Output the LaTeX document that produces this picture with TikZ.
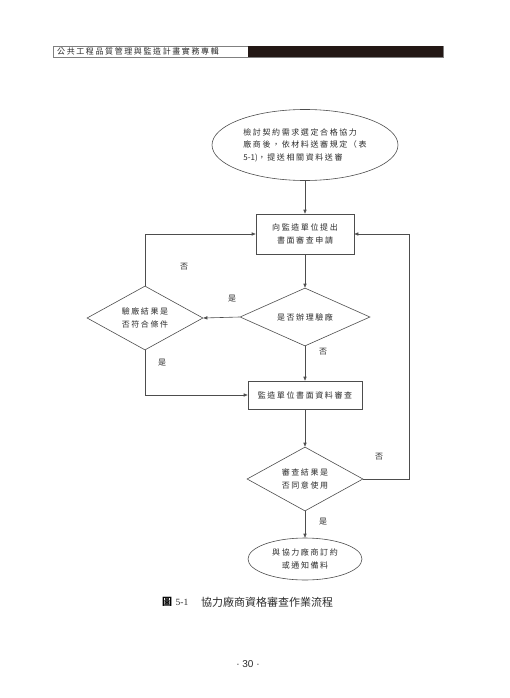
\documentclass[tikz,border=0pt]{standalone}
\usepackage{fontspec}
\setmainfont{Liberation Serif}
\setsansfont{Liberation Sans}
\newfontfamily\cjk[LetterSpace=20]{Noto Sans CJK TC}
\newfontfamily\cjkcap{Noto Sans CJK TC}
\newcommand{\tight}[1]{{\addfontfeature{LetterSpace=0}#1}}
\usepackage{tikz}
\usetikzlibrary{shapes.geometric,arrows.meta}
\definecolor{linegray}{HTML}{4D4D4D}
\definecolor{txtgray}{HTML}{2B2B2B}
\definecolor{inkblack}{HTML}{231815}
\tikzset{
  flow/.style={draw=linegray,line width=0.6pt,text=txtgray,
    font=\cjk\fontsize{8}{12.5}\selectfont,align=center,inner sep=0pt},
}

\begin{document}
\begin{tikzpicture}[
    x=1pt,y=-1pt,
    >={Triangle[length=4pt,width=3.2pt]},
    procbox/.style={flow,rectangle},
    oval/.style={flow,ellipse},
    test/.style={flow,diamond,aspect=2},
    link/.style={draw=linegray,line width=0.6pt,->},
    tag/.style={text=txtgray,font=\cjk\fontsize{8}{9}\selectfont,inner sep=0pt}
    ]
    \useasboundingbox (0,0) rectangle (510,698);
    \draw[draw=gray,fill=white] (53,46) rectangle (443,57);
    \fill[inkblack] (248,46) rectangle (443,57);
    \node[anchor=west,text=txtgray,font=\cjk\fontsize{8}{9}\selectfont,inner sep=0pt] (header) at (57,51.5) {公共工程品質管理與監造計畫實務專輯};

    \node[oval,minimum width=186pt,minimum height=71pt,align=left] (start) at (305,145) {檢討契約需求選定合格協力\\廠商後，依材料送審規定（表\\\tight{5-1)}，提送相關資料送審};
    \node[procbox,minimum width=98pt,minimum height=40pt] (apply) at (305,234) {向監造單位提出\\書面審查申請};
    \node[test,minimum width=130pt,minimum height=58pt] (visit) at (305,317) {是否辦理驗廠};
    \node[test,minimum width=116pt,minimum height=64pt] (pass) at (145,318) {驗廠結果是\\否符合條件};
    \node[procbox,minimum width=114pt,minimum height=28pt] (review) at (305,395) {監造單位書面資料審查};
    \node[test,minimum width=116pt,minimum height=64pt] (agree) at (305,479) {審查結果是\\否同意使用};
    \node[oval,minimum width=114pt,minimum height=42pt] (order) at (305,559) {與協力廠商訂約\\或通知備料};
    \coordinate (back) at (409,234);

    \draw[link] (start) -- (apply);
    \draw[link] (apply) -- (visit);
    \draw[link] (visit.west) -- (pass.east);
    \draw[link] (pass.north) |- (apply.west);
    \draw[link] (pass.south) |- (review.west);
    \draw[link] (visit.south) -- (review.north);
    \draw[link] (review) -- (agree);
    \draw[link] (agree.east) -| (back) -- (apply.east);
    \draw[link] (agree.south) -- (order.north);

    \node[tag] (visityes) at (232,299) {是};
    \node[tag] (passno) at (184,267) {否};
    \node[tag] (passyes) at (162,363) {是};
    \node[tag] (visitno) at (323,352) {否};
    \node[tag] (agreeno) at (379,457) {否};
    \node[tag] (agreeyes) at (323,522) {是};

    \node[text=black,font=\cjkcap\bfseries\fontsize{10}{12}\selectfont,inner sep=0pt] (figmark) at (167,602) {圖};
    \node[text=txtgray,font=\rmfamily\fontsize{9.5}{12}\selectfont,inner sep=0pt] (fignum) at (182,602) {5-1};
    \node[anchor=west,text=txtgray,font=\cjkcap\fontsize{11}{13}\selectfont,inner sep=0pt] (figtitle) at (201,602) {協力廠商資格審查作業流程};
    \node[text=txtgray,font=\sffamily\fontsize{10}{12}\selectfont,inner sep=0pt] (folio) at (248,664) {· 30 ·};
  \end{tikzpicture}
\end{document}
